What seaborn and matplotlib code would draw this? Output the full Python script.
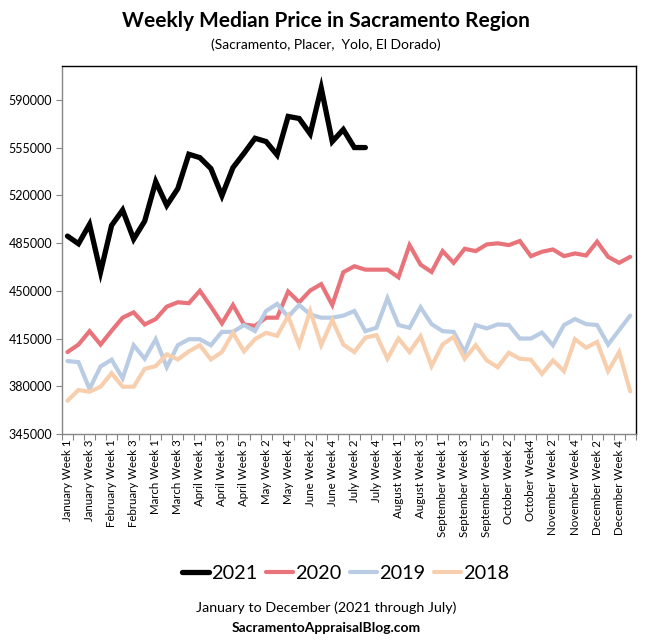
import matplotlib
matplotlib.use("Agg")
import matplotlib.pyplot as plt
from matplotlib.ticker import FixedLocator
import seaborn as sns
import numpy as np
import pandas as pd

# week categories (every week of the year, 52 slots)
months = ["January", "February", "March", "April", "May", "June", "July",
          "August", "September", "October", "November", "December"]
weeks_per_month = [4, 4, 4, 5, 4, 4, 5, 4, 5, 4, 4, 5]
week_labels = []
for m, n in zip(months, weeks_per_month):
    for w in range(1, n + 1):
        week_labels.append(f"{m} Week {w}")
week_labels[42] = "October Week4"

price_2021 = [490100, 484500, 498700, 463700, 497900, 509200, 487900, 501100,
              530000, 512600, 524900, 550100, 547600, 539600, 519700, 540300,
              550800, 561800, 559400, 549600, 577800, 576300, 565000, 598600,
              559400, 568200, 555000, 555000]

price_2020 = [405100, 410600, 420400, 410600, 420700, 430300, 434200, 425300,
              429300, 438400, 441600, 440900, 450000, 438400, 426100, 439600,
              425300, 424300, 430300, 430300, 449500, 441600, 450200, 454900,
              439600, 463600, 468000, 465500, 465500, 465500, 459900, 483500,
              469200, 463800, 479100, 470500, 480800, 479100, 484000, 484800,
              483500, 486500, 475400, 478600, 480300, 475400, 477400, 475900,
              486000, 474900, 470500, 474900]

price_2019 = [398500, 397700, 378000, 394500, 399500, 385900, 410100, 400200,
              414500, 394000, 410100, 414500, 414500, 410100, 419900, 419900,
              424900, 420500, 435200, 440400, 431000, 439600, 432700, 430300,
              430300, 431800, 435200, 420400, 422900, 444600, 424900, 422900,
              437900, 425600, 420400, 419900, 405100, 424900, 422400, 425400,
              424900, 415000, 415000, 419400, 410100, 424900, 429300, 425600,
              424900, 410600, 421200, 431800]

price_2018 = [369400, 377300, 376000, 379700, 389600, 379700, 379700, 392800,
              394800, 403400, 399700, 405600, 410100, 399700, 405100, 419200,
              405600, 414600, 419200, 417000, 431500, 410100, 435200, 410100,
              428600, 410600, 405100, 415700, 417500, 400200, 415000, 405100,
              416700, 394800, 410700, 416200, 400200, 410100, 399000, 394000,
              404600, 400200, 399500, 389100, 399000, 391100, 414500, 408300,
              412500, 391100, 405100, 376300]

years = ["2021", "2020", "2019", "2018"]
colors = {"2021": "#000000", "2020": "#e8737a", "2019": "#b9cce3", "2018": "#f8cfae"}
widths = {"2021": 3.8, "2020": 3.0, "2019": 3.0, "2018": 3.0}

series = {"2021": price_2021, "2020": price_2020, "2019": price_2019, "2018": price_2018}
rows = []
for yr in years:
    for i, v in enumerate(series[yr]):
        rows.append({"week": i, "price": v, "year": yr})
df = pd.DataFrame(rows)

sns.set_theme(style="white")
plt.rcParams["font.family"] = ["Lato", "DejaVu Sans"]
plt.rcParams["text.color"] = "black"

fig = plt.figure(figsize=(6.52, 6.44), dpi=100)
ax = fig.add_axes([0.095, 0.326, 0.88, 0.572])

for yr in years:
    sns.lineplot(data=df[df["year"] == yr], x="week", y="price", color=colors[yr],
                 linewidth=widths[yr], ax=ax, label=yr, solid_joinstyle="miter")

ax.set_xlim(-0.5, len(week_labels) - 0.5)
ax.set_ylim(345000, 615000)
ax.set_yticks(np.arange(345000, 590001, 35000))
ax.set_yticklabels([str(v) for v in range(345000, 590001, 35000)], fontsize=9)
ax.set_xticks(range(0, len(week_labels), 2))
ax.set_xticklabels(week_labels[::2], rotation=90, fontsize=8.3)
ax.xaxis.set_minor_locator(FixedLocator(np.arange(-0.5, len(week_labels), 1)))
ax.tick_params(axis="x", which="major", length=0, pad=4, labelcolor="black")
ax.tick_params(axis="x", which="minor", length=4, color="#868686", width=0.8, bottom=True)
ax.tick_params(axis="y", length=4, color="#868686", width=0.8, left=True, pad=3,
               labelcolor="black")
ax.set_xlabel("")
ax.set_ylabel("")

for side in ["left", "bottom"]:
    ax.spines[side].set_color("#868686")
    ax.spines[side].set_linewidth(1.0)
for side in ["top", "right"]:
    ax.spines[side].set_color("#000000")
    ax.spines[side].set_linewidth(1.0)

ax.get_legend().remove()
handles, labels = ax.get_legend_handles_labels()
fig.legend(handles, labels, loc="center", bbox_to_anchor=(0.53, 0.11), ncol=4,
           frameon=False, fontsize=14.3, handlelength=1.35, handletextpad=0.1,
           columnspacing=0.45)

fig.text(0.5, 0.968, "Weekly Median Price in Sacramento Region", ha="center",
         va="center", fontsize=15, fontweight="bold")
fig.text(0.5, 0.93, "(Sacramento, Placer,  Yolo, El Dorado)", ha="center",
         va="center", fontsize=10)
fig.text(0.5, 0.057, "January to December (2021 through July)", ha="center",
         va="center", fontsize=10.3)
fig.text(0.5, 0.025, "SacramentoAppraisalBlog.com", ha="center", va="center",
         fontsize=10, fontweight="bold")

fig.savefig("out.png", dpi=100)
